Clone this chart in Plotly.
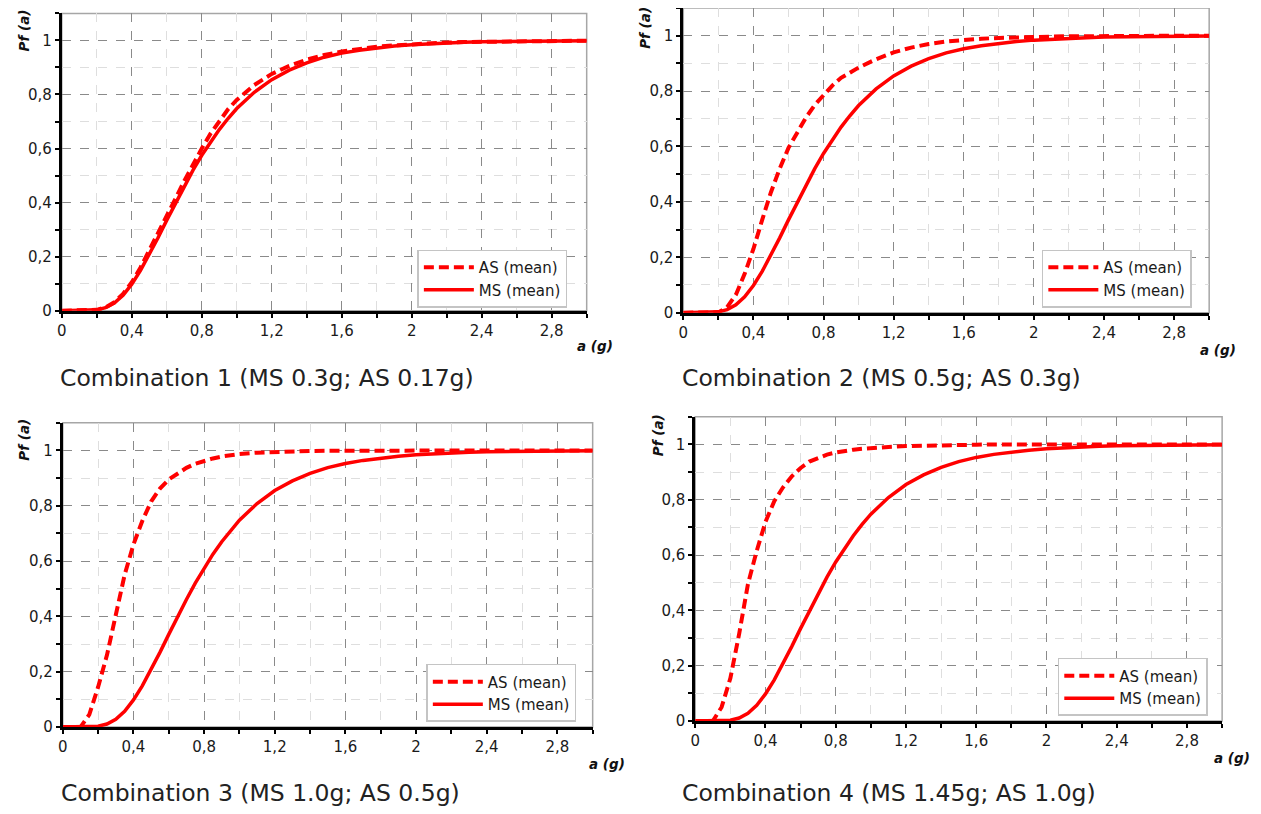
import plotly.graph_objects as go

# ---------------- data ----------------
a_g = [0.0, 0.05, 0.1, 0.15, 0.2, 0.25, 0.3, 0.35, 0.4, 0.45, 0.5, 0.55, 0.6, 0.65, 0.7,
       0.75, 0.8, 0.85, 0.9, 0.95, 1.0,
       1.1, 1.2, 1.3, 1.4, 1.5, 1.6, 1.7, 1.8, 1.9, 2.0, 2.1, 2.2, 2.3, 2.4, 2.5, 2.6,
       2.7, 2.8, 2.9, 3.0]

# Main-shock fragility (mean), same in the four combinations
ms_mean = [0.0, 0.0, 0.0, 0.0003, 0.003, 0.011, 0.028, 0.057, 0.098, 0.149, 0.207, 0.270,
           0.335, 0.399, 0.461, 0.520, 0.575, 0.625, 0.670, 0.711, 0.748,
           0.808, 0.855, 0.890, 0.917, 0.938, 0.953, 0.964, 0.973, 0.979, 0.984, 0.988,
           0.991, 0.993, 0.995, 0.996, 0.997, 0.997, 0.998, 0.998, 0.999]

# After-shock fragility (mean), one per combination
as_mean_c1 = [0.0, 0.0, 0.0, 0.0004, 0.003, 0.012, 0.031, 0.062, 0.105, 0.160, 0.222, 0.285,
              0.348, 0.415, 0.480, 0.542, 0.600, 0.655, 0.703, 0.745, 0.780,
              0.835, 0.876, 0.906, 0.929, 0.946, 0.959, 0.969, 0.977, 0.982, 0.986, 0.989,
              0.992, 0.994, 0.995, 0.996, 0.997, 0.998, 0.998, 0.999, 0.999]
as_mean_c2 = [0.0, 0.0, 0.0, 0.0, 0.001, 0.020, 0.065, 0.140, 0.230, 0.335, 0.435, 0.520,
              0.595, 0.650, 0.705, 0.750, 0.785, 0.820, 0.848, 0.868, 0.885,
              0.915, 0.940, 0.957, 0.970, 0.979, 0.985, 0.989, 0.992, 0.994, 0.996, 0.997,
              0.998, 0.998, 0.999, 0.999, 0.999, 1.0, 1.0, 1.0, 1.0]
as_mean_c3 = [0.0, 0.0, 0.0, 0.045, 0.145, 0.260, 0.400, 0.550, 0.660, 0.745, 0.815, 0.862,
              0.895, 0.918, 0.937, 0.952, 0.963, 0.971, 0.978, 0.983, 0.987,
              0.992, 0.995, 0.997, 0.998, 0.999, 0.999, 1.0, 1.0, 1.0, 1.0, 1.0,
              1.0, 1.0, 1.0, 1.0, 1.0, 1.0, 1.0, 1.0, 1.0]
as_mean_c4 = [0.0, 0.0, 0.0, 0.050, 0.155, 0.315, 0.495, 0.615, 0.720, 0.795, 0.845, 0.885,
              0.915, 0.938, 0.952, 0.963, 0.971, 0.977, 0.981, 0.984, 0.987,
              0.991, 0.994, 0.996, 0.998, 0.999, 0.999, 1.0, 1.0, 1.0, 1.0, 1.0,
              1.0, 1.0, 1.0, 1.0, 1.0, 1.0, 1.0, 1.0, 1.0]

panel_titles = ["Combination 1 (MS 0.3g; AS 0.17g)",
                "Combination 2 (MS 0.5g; AS 0.3g)",
                "Combination 3 (MS 1.0g; AS 0.5g)",
                "Combination 4 (MS 1.45g; AS 1.0g)"]
series_names = ["AS (mean)", "MS (mean)"]

x_tickvals = [0, 0.4, 0.8, 1.2, 1.6, 2.0, 2.4, 2.8]
x_ticktext = ["0", "0,4", "0,8", "1,2", "1,6", "2", "2,4", "2,8"]
y_tickvals = [0, 0.2, 0.4, 0.6, 0.8, 1.0]
y_ticktext = ["0", "0,2", "0,4", "0,6", "0,8", "1"]

as_series = [as_mean_c1, as_mean_c2, as_mean_c3, as_mean_c4]

# ---------------- layout geometry ----------------
OFF = 8                      # default page margin of the html body
W, H = 1261 - 2 * OFF, 809
YS, YC = 0.988, 7.6          # observed vertical mapping of the screenshot
FONT = "DejaVu Sans"
RED = "#ff0000"

# plot areas in target pixels: (left, right, top, bottom)
areas = [(57, 584, 13, 310), (681, 1209, 7, 312), (58, 590, 422, 726), (693, 1222, 416, 720)]
legend_pos = [(414, 249), (1041, 249), (423, 663), (1057, 657)]
title_pos = [(53, 377), (678, 377), (54, 792), (678, 792)]
pf_pos = [(19, 30), (643, 27), (19, 439), (655, 434)]
ag_pos = [(592, 345), (1218, 349), (604, 763), (1232, 757)]


def px(x):
    return min(1.0, max(0.0, (x - OFF) / W))


def py(y):
    fy = (y - YC) / YS
    return min(1.0, max(0.0, (H - fy) / H))


fig = go.Figure()
layout = dict(width=W, height=H, margin=dict(l=0, r=0, t=0, b=0),
              paper_bgcolor="white", plot_bgcolor="white",
              font=dict(family=FONT, color="#222222"), annotations=[], shapes=[])

for i in range(4):
    n = i + 1
    xa = "x" if n == 1 else f"x{n}"
    ya = "y" if n == 1 else f"y{n}"
    lg = "legend" if n == 1 else f"legend{n}"
    fig.add_trace(go.Scatter(x=a_g, y=as_series[i], mode="lines", name=series_names[0],
                             line=dict(color=RED, width=4, dash="10px,5px"),
                             xaxis=xa, yaxis=ya, legend=lg))
    fig.add_trace(go.Scatter(x=a_g, y=ms_mean, mode="lines", name=series_names[1],
                             line=dict(color=RED, width=3.5),
                             xaxis=xa, yaxis=ya, legend=lg))

    l, r, t, b = areas[i]
    xkey = "xaxis" if n == 1 else f"xaxis{n}"
    ykey = "yaxis" if n == 1 else f"yaxis{n}"
    common = dict(showline=True, linecolor="black", linewidth=3,
                  ticks="outside", ticklen=4, tickwidth=2, tickcolor="black",
                  tickfont=dict(family=FONT, size=15, color="#1a1a1a"),
                  showgrid=True, gridcolor="#8a8a8a", griddash="dash", gridwidth=1,
                  zeroline=False, fixedrange=True)
    layout[xkey] = dict(domain=[px(l), px(r)], range=[0, 3], anchor=ya,
                        tickvals=x_tickvals, ticktext=x_ticktext,
                        minor=dict(dtick=0.2, tick0=0, showgrid=True, gridcolor="#dedede",
                                   gridwidth=1, ticks="outside", ticklen=4, tickwidth=2,
                                   tickcolor="black"),
                        **common)
    layout[ykey] = dict(domain=[py(b), py(t)], range=[0, 1.1], anchor=xa,
                        tickvals=y_tickvals, ticktext=y_ticktext,
                        minor=dict(dtick=0.1, tick0=0, showgrid=True, gridcolor="#dedede",
                                   gridwidth=1, ticks="outside", ticklen=4, tickwidth=2,
                                   tickcolor="black"),
                        **common)
    layout["shapes"].append(dict(type="rect", xref=f"{xa} domain", yref=f"{ya} domain",
                                 x0=0, x1=1, y0=0, y1=1, layer="below",
                                 line=dict(color="#a6a6a6", width=1.5)))
    lx, ly = legend_pos[i]
    layout[lg] = dict(x=px(lx), y=py(ly), xanchor="left", yanchor="top",
                      bgcolor="white", bordercolor="#c4c4c4", borderwidth=1.5,
                      font=dict(family=FONT, size=15, color="#1a1a1a"),
                      itemwidth=50, tracegroupgap=0, traceorder="normal")
    tx, ty = title_pos[i]
    layout["annotations"].append(dict(text=panel_titles[i], xref="paper", yref="paper",
                                      x=px(tx), y=py(ty), xanchor="left", yanchor="middle",
                                      showarrow=False,
                                      font=dict(family=FONT, size=23.5, color="#222222")))
    fx, fy = pf_pos[i]
    layout["annotations"].append(dict(text="Pf (a)", xref="paper", yref="paper",
                                      x=px(fx), y=py(fy), xanchor="center", yanchor="middle",
                                      textangle=-90, showarrow=False,
                                      font=dict(family=FONT, size=13.5, color="#111111",
                                                weight="bold", style="italic")))
    gx, gy = ag_pos[i]
    layout["annotations"].append(dict(text="a (g)", xref="paper", yref="paper",
                                      x=px(gx), y=py(gy), xanchor="center", yanchor="middle",
                                      showarrow=False,
                                      font=dict(family=FONT, size=13.5, color="#111111",
                                                weight="bold", style="italic")))

fig.update_layout(**layout)
fig.write_html("out.html")
